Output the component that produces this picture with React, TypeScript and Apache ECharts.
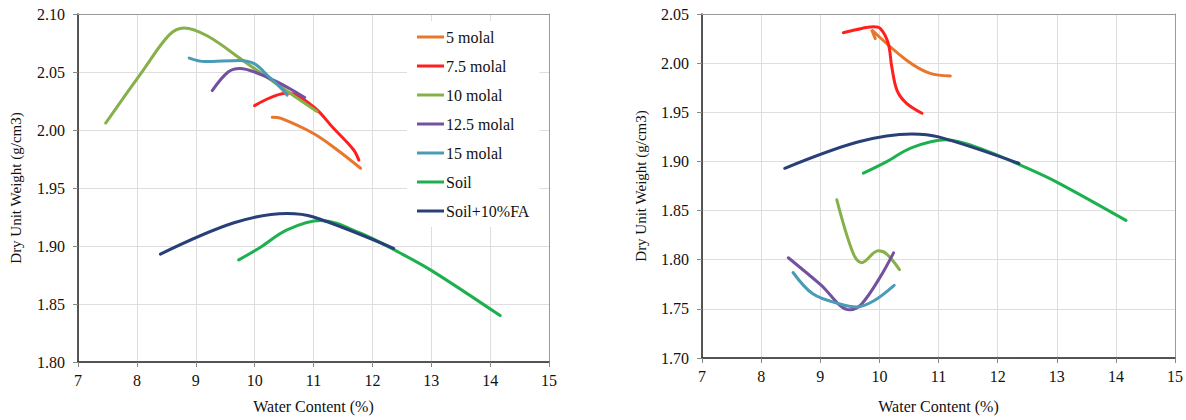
import React, { useEffect, useRef } from "react";
import * as echarts from "echarts";

const seriesNames = ["5 molal", "7.5 molal", "10 molal", "12.5 molal", "15 molal", "Soil", "Soil+10%FA"];
const seriesColors = ["#E8762B", "#FF1F1F", "#86B049", "#7451A0", "#4A9BB5", "#1DB04F", "#283F78"];

const xTicks = [7, 8, 9, 10, 11, 12, 13, 14, 15];
const leftYTicks = [1.8, 1.85, 1.9, 1.95, 2.0, 2.05, 2.1];
const rightYTicks = [1.7, 1.75, 1.8, 1.85, 1.9, 1.95, 2.0, 2.05];

// Left chart
const left5 = [[10.3, 2.011], [10.45, 2.01], [11.0, 1.997], [11.4, 1.983], [11.8, 1.967]];
const left75 = [[10.0, 2.021], [10.55, 2.032], [11.0, 2.02], [11.34, 2.0015], [11.68, 1.983], [11.77, 1.974]];
const left10 = [[7.47, 2.006], [8.1, 2.051], [8.55, 2.082], [8.8, 2.088], [9.2, 2.081], [9.8, 2.06], [10.45, 2.037], [11.06, 2.016]];
const left125 = [[9.28, 2.034], [9.55, 2.05], [9.75, 2.053], [10.0, 2.05], [10.4, 2.041], [10.85, 2.028]];
const left15 = [[8.89, 2.062], [9.15, 2.059], [9.75, 2.06], [10.0, 2.057], [10.22, 2.047], [10.47, 2.035], [10.55, 2.03]];

// Shared (both charts)
const soil = [[9.73, 1.888], [10.1, 1.899], [10.55, 1.914], [11.12, 1.922], [11.8, 1.911], [12.47, 1.894], [13.0, 1.879], [14.17, 1.84]];
const soilFA = [[8.4, 1.893], [9.65, 1.92], [10.55, 1.928], [11.0, 1.925], [12.36, 1.898]];

// Right chart
const right5 = [[9.93, 2.025], [9.87, 2.034], [10.46, 2.003], [10.86, 1.9895], [11.2, 1.987]];
const right75 = [[9.39, 2.031], [9.6, 2.034], [9.9, 2.037], [10.02, 2.035], [10.15, 2.02], [10.21, 1.996], [10.3, 1.972], [10.46, 1.959], [10.72, 1.949]];
const right10 = [[9.28, 1.861], [9.56, 1.806], [9.7, 1.797], [9.98, 1.809], [10.12, 1.806], [10.34, 1.79]];
const right125 = [[8.46, 1.802], [9.0, 1.775], [9.5, 1.749], [9.7, 1.755], [10.01, 1.782], [10.24, 1.807]];
const right15 = [[8.54, 1.787], [8.88, 1.765], [9.33, 1.755], [9.62, 1.752], [9.9, 1.758], [10.25, 1.774]];

const leftData = [left5, left75, left10, left125, left15, soil, soilFA];
const rightData = [right5, right75, right10, right125, right15, soil, soilFA];

const FONT = "'Liberation Serif', 'Times New Roman', serif";

export default function App() {
  const ref = useRef<HTMLDivElement>(null);
  useEffect(() => {
    if (!ref.current) return;
    const chart = echarts.init(ref.current, undefined, { renderer: "svg" });

    const mainX = (gridIndex: number, nameGap: number) => ({
      type: "value",
      gridIndex,
      min: xTicks[0],
      max: xTicks[xTicks.length - 1],
      interval: 1,
      position: "bottom",
      name: "Water Content (%)",
      nameLocation: "middle",
      nameGap,
      nameTextStyle: { fontFamily: FONT, fontSize: 16, color: "#111" },
      axisLine: { show: true, onZero: false, lineStyle: { color: "#222", width: 1.5 } },
      axisTick: { show: true, inside: false, length: 5, lineStyle: { color: "#888" } },
      axisLabel: { fontFamily: FONT, fontSize: 16, color: "#111", margin: 10 },
      splitLine: { show: true, lineStyle: { color: "#dedede", width: 1 } },
    });
    const borderX = (gridIndex: number) => ({
      type: "value",
      gridIndex,
      min: xTicks[0],
      max: xTicks[xTicks.length - 1],
      interval: 1,
      position: "top",
      axisLine: { show: true, onZero: false, lineStyle: { color: "#9a9a9a", width: 1 } },
      axisTick: { show: false },
      axisLabel: { show: false },
      splitLine: { show: false },
    });
    const mainY = (gridIndex: number, ticks: number[], nameGap: number) => ({
      type: "value",
      gridIndex,
      min: ticks[0],
      max: ticks[ticks.length - 1],
      interval: 0.05,
      position: "left",
      name: "Dry Unit Weight (g/cm3)",
      nameLocation: "middle",
      nameGap,
      nameTextStyle: { fontFamily: FONT, fontSize: 15, color: "#111" },
      axisLine: { show: true, onZero: false, lineStyle: { color: "#222", width: 1.5 } },
      axisTick: { show: true, inside: false, length: 5, lineStyle: { color: "#888" } },
      axisLabel: { fontFamily: FONT, fontSize: 16, color: "#111", margin: 13, formatter: (v: number) => v.toFixed(2) },
      splitLine: { show: true, lineStyle: { color: "#dedede", width: 1 } },
    });
    const borderY = (gridIndex: number, ticks: number[]) => ({
      type: "value",
      gridIndex,
      min: ticks[0],
      max: ticks[ticks.length - 1],
      interval: 0.05,
      position: "right",
      axisLine: { show: true, onZero: false, lineStyle: { color: "#9a9a9a", width: 1 } },
      axisTick: { show: false },
      axisLabel: { show: false },
      splitLine: { show: false },
    });

    const makeSeries = (data: number[][][], axis: number) =>
      data.map((d, i) => ({
        type: "line",
        name: seriesNames[i],
        xAxisIndex: axis,
        yAxisIndex: axis,
        data: d,
        smooth: 0.35,
        showSymbol: false,
        symbol: "none",
        lineStyle: { color: seriesColors[i], width: 3, cap: "round" },
        itemStyle: { color: seriesColors[i] },
      }));

    chart.setOption({
      animation: false,
      backgroundColor: "#ffffff",
      grid: [
        { left: 78, top: 14, width: 471, height: 348 },
        { left: 702, top: 14, width: 473, height: 344 },
      ],
      legend: {
        data: seriesNames,
        orient: "vertical",
        left: 407,
        top: 21,
        padding: [8, 10, 8, 10],
        backgroundColor: "#ffffff",
        itemWidth: 27,
        itemHeight: 3,
        itemGap: 13,
        icon: "rect",
        textStyle: { fontFamily: FONT, fontSize: 16, color: "#111", padding: [0, 0, 0, -3] },
      },
      xAxis: [mainX(0, 36), borderX(0), mainX(1, 40), borderX(1)],
      yAxis: [mainY(0, leftYTicks, 55), borderY(0, leftYTicks), mainY(1, rightYTicks, 54), borderY(1, rightYTicks)],
      series: [...makeSeries(leftData, 0), ...makeSeries(rightData, 2)],
    });
    return () => chart.dispose();
  }, []);
  return (
    <div
      ref={ref}
      style={{ position: "fixed", left: 0, top: 0, width: 1186, height: 420, background: "#fff" }}
    />
  );
}
